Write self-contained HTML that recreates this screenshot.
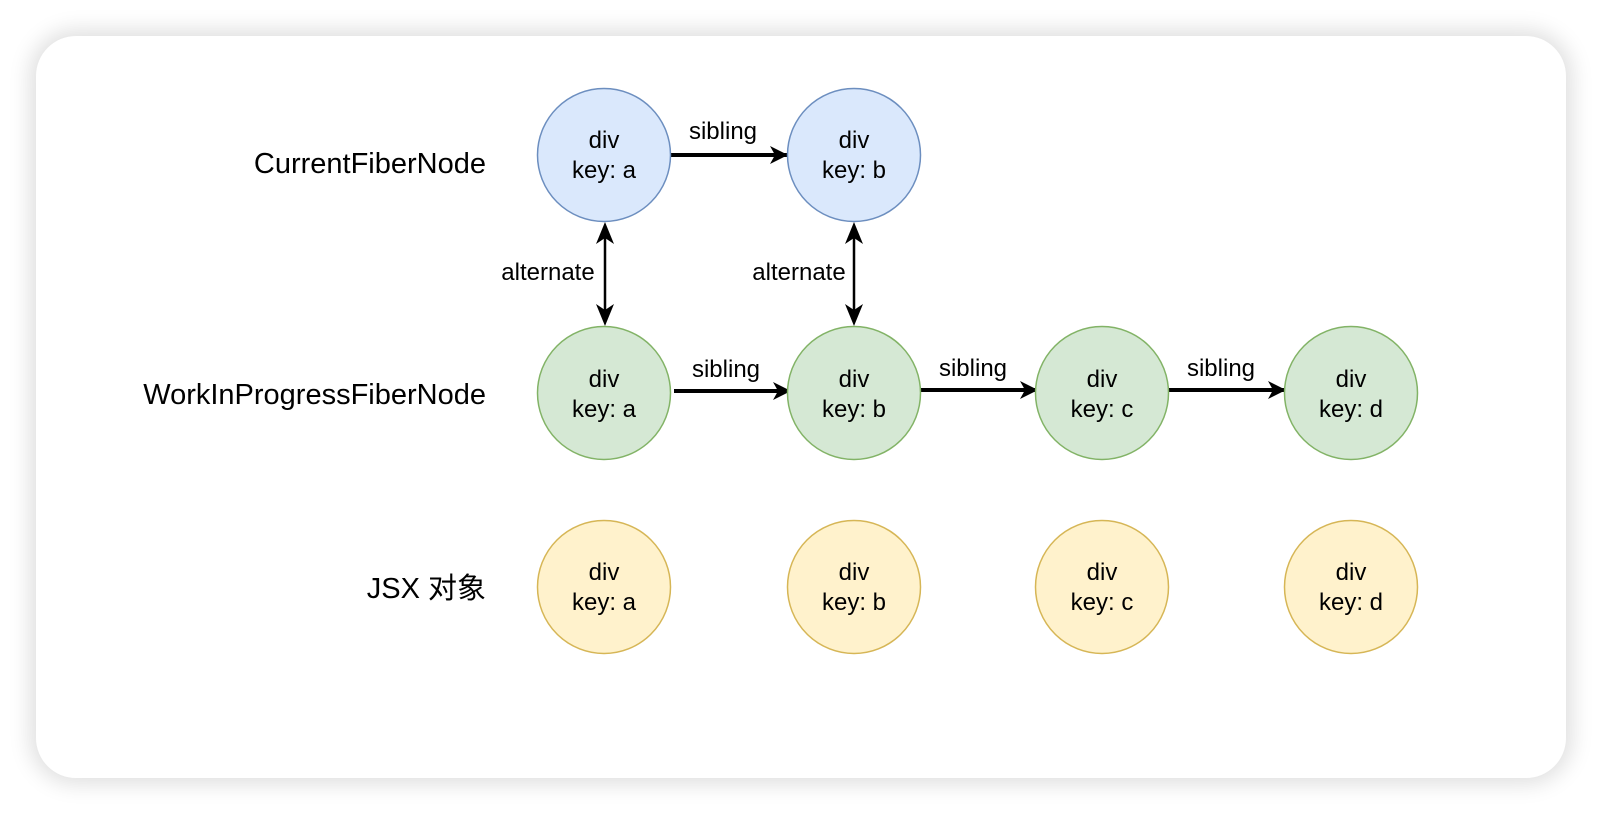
<!DOCTYPE html>
<html><head><meta charset="utf-8"><style>
html,body{margin:0;padding:0;background:#fff;width:1602px;height:814px;overflow:hidden}
.card{position:absolute;left:36px;top:36px;width:1530px;height:742px;background:#fff;border-radius:40px;box-shadow:0 0 22px 6px rgba(0,0,0,0.13)}
svg{position:absolute;left:0;top:0}
text{font-family:"Liberation Sans","Noto Sans CJK SC",sans-serif;fill:#000}
</style></head><body>
<div class="card"></div>
<svg width="1602" height="814" viewBox="0 0 1602 814">
<defs>
<marker id="ah2" markerWidth="18" markerHeight="18" refX="17" refY="9" orient="auto" markerUnits="userSpaceOnUse" viewBox="0 0 18 18">
<path d="M0,0 L18,9 L0,18 L5,9 z" fill="#000"/></marker>
</defs>
<g font-size="29" text-anchor="end">
<text x="486" y="173">CurrentFiberNode</text>
<text x="486" y="404">WorkInProgressFiberNode</text>
<text x="486" y="598">JSX 对象</text>
</g>
<g stroke="#000" fill="none">
<line x1="671" y1="155" x2="787" y2="155" stroke-width="4" marker-end="url(#ah2)"/>
<line x1="674" y1="391" x2="790" y2="391" stroke-width="4" marker-end="url(#ah2)"/>
<line x1="921" y1="390" x2="1037" y2="390" stroke-width="4" marker-end="url(#ah2)"/>
<line x1="1169" y1="390" x2="1285" y2="390" stroke-width="4" marker-end="url(#ah2)"/>
<line x1="605" y1="236" x2="605" y2="312" stroke-width="2.5"/>
<line x1="854" y1="236" x2="854" y2="312" stroke-width="2.5"/>
</g>
<g fill="#000">
<path d="M605,222 L614,244 L605,238 L596,244 z"/>
<path d="M605,326 L614,304 L605,310 L596,304 z"/>
<path d="M854,222 L863,244 L854,238 L845,244 z"/>
<path d="M854,326 L863,304 L854,310 L845,304 z"/>
</g>
<g font-size="24" text-anchor="middle">
<text x="723" y="139">sibling</text>
<text x="726" y="377">sibling</text>
<text x="973" y="376">sibling</text>
<text x="1221" y="376">sibling</text>
<text x="548" y="280">alternate</text>
<text x="799" y="280">alternate</text>
</g>
<g stroke-width="1.5">
<circle cx="604" cy="155" r="66.5" fill="#dae8fc" stroke="#6c8ebf"/>
<circle cx="854" cy="155" r="66.5" fill="#dae8fc" stroke="#6c8ebf"/>
<circle cx="604" cy="393" r="66.5" fill="#d5e8d4" stroke="#82b366"/>
<circle cx="854" cy="393" r="66.5" fill="#d5e8d4" stroke="#82b366"/>
<circle cx="1102" cy="393" r="66.5" fill="#d5e8d4" stroke="#82b366"/>
<circle cx="1351" cy="393" r="66.5" fill="#d5e8d4" stroke="#82b366"/>
<circle cx="604" cy="587" r="66.5" fill="#fff2cc" stroke="#d6b656"/>
<circle cx="854" cy="587" r="66.5" fill="#fff2cc" stroke="#d6b656"/>
<circle cx="1102" cy="587" r="66.5" fill="#fff2cc" stroke="#d6b656"/>
<circle cx="1351" cy="587" r="66.5" fill="#fff2cc" stroke="#d6b656"/>
</g>
<g font-size="24" text-anchor="middle">
<text x="604" y="148">div</text><text x="604" y="178">key: a</text>
<text x="854" y="148">div</text><text x="854" y="178">key: b</text>
<text x="604" y="387">div</text><text x="604" y="417">key: a</text>
<text x="854" y="387">div</text><text x="854" y="417">key: b</text>
<text x="1102" y="387">div</text><text x="1102" y="417">key: c</text>
<text x="1351" y="387">div</text><text x="1351" y="417">key: d</text>
<text x="604" y="580">div</text><text x="604" y="610">key: a</text>
<text x="854" y="580">div</text><text x="854" y="610">key: b</text>
<text x="1102" y="580">div</text><text x="1102" y="610">key: c</text>
<text x="1351" y="580">div</text><text x="1351" y="610">key: d</text>
</g>
</svg>
</body></html>
